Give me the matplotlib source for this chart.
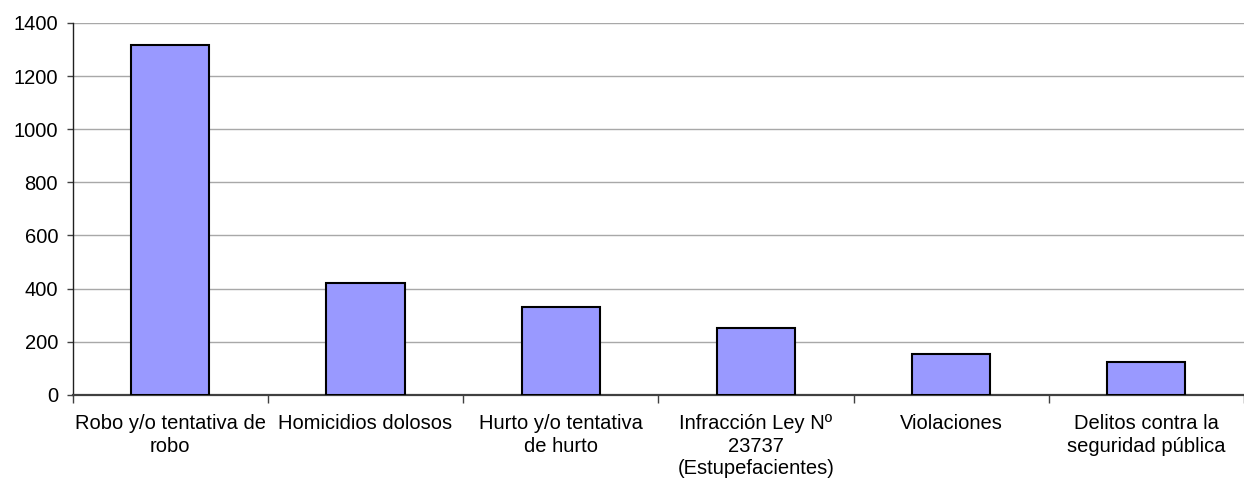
import matplotlib
matplotlib.use("Agg")
import matplotlib.pyplot as plt
import numpy as np

plt.rcParams['font.family'] = ['Liberation Sans', 'DejaVu Sans']

# Data
categorias = [
    "Robo y/o tentativa de\nrobo",
    "Homicidios dolosos",
    "Hurto y/o tentativa\nde hurto",
    "Infracción Ley Nº\n23737\n(Estupefacientes)",
    "Violaciones",
    "Delitos contra la\nseguridad pública",
]
valores = [1316, 421, 330, 253, 155, 123]
yticks = [0, 200, 400, 600, 800, 1000, 1200, 1400]

fig = plt.figure(figsize=(12.44, 4.87), dpi=100)
ax = fig.add_axes([0.0584, 0.189, 0.9416, 0.764])

x = np.arange(len(categorias))
ax.bar(x, valores, width=0.4, color="#9999FF", edgecolor="black", linewidth=1.5, zorder=3)

ax.set_xlim(-0.5, len(categorias) - 0.5)
ax.set_ylim(0, 1400)
ax.set_yticks(yticks)
ax.yaxis.grid(True, color="#a8a8a8", linewidth=1, zorder=0)

# category labels at centres, tick marks at boundaries
ax.set_xticks(x)
ax.set_xticklabels(categorias, fontsize=14.5, linespacing=1.22)
ax.tick_params(axis="x", which="major", length=0, pad=14)
ax.set_xticks(np.arange(-0.5, len(categorias), 1), minor=True)
ax.tick_params(axis="x", which="minor", length=6, width=1, color="#404040", direction="out")
ax.tick_params(axis="y", length=4.5, width=1, color="#404040", labelsize=14.5, pad=6)

for s in ["top", "right"]:
    ax.spines[s].set_visible(False)
ax.spines["left"].set_color("#202020")
ax.spines["left"].set_linewidth(1.0)
ax.spines["bottom"].set_color("#404040")
ax.spines["bottom"].set_linewidth(1.6)

fig.savefig("out.png", dpi=100)
